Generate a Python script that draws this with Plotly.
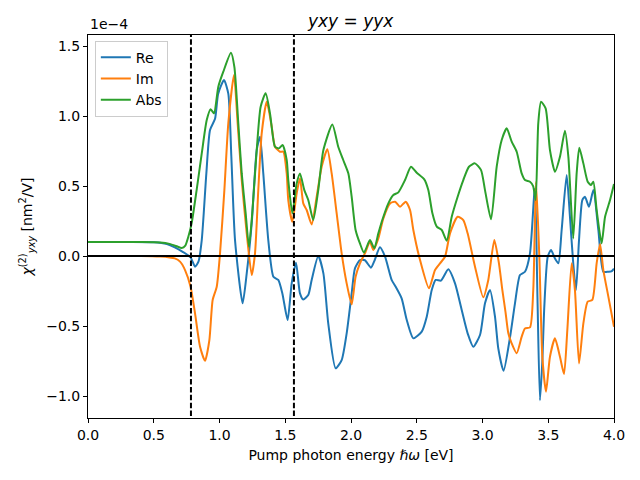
import plotly.graph_objects as go

# Values in units of 1e-4 nm^2/V
re_x = [0.0, 0.3, 0.5, 0.6, 0.66, 0.72, 0.78, 0.814, 0.84, 0.865, 0.90, 0.928, 0.966, 0.99, 1.034,
        1.067, 1.09, 1.118, 1.176, 1.207, 1.245, 1.283, 1.308, 1.333, 1.371, 1.41, 1.447, 1.478,
        1.518, 1.549, 1.582, 1.612, 1.637, 1.675, 1.701, 1.751, 1.79, 1.827, 1.883, 1.929, 1.967,
        2.005, 2.03, 2.068, 2.106, 2.152, 2.18, 2.22, 2.259, 2.309, 2.34, 2.385, 2.424, 2.474,
        2.538, 2.576, 2.614, 2.644, 2.684, 2.74, 2.791, 2.842, 2.887, 2.93, 2.981, 3.019, 3.057,
        3.095, 3.12, 3.16, 3.21, 3.247, 3.285, 3.323, 3.361, 3.394, 3.40, 3.418, 3.437, 3.455,
        3.47, 3.496, 3.521, 3.551, 3.577, 3.602, 3.64, 3.665, 3.69, 3.711, 3.734, 3.759, 3.779,
        3.81, 3.843, 3.881, 3.919, 3.957, 3.98, 4.0]
re_y = [0.10, 0.10, 0.098, 0.085, 0.062, 0.03, -0.01, -0.076, -0.04, 0.114, 0.59, 0.90, 0.98, 1.16, 1.257,
        1.16, 0.71, 0.114, -0.338, -0.124, 0.235, 0.757, 0.852, 0.59, 0.114, -0.148, -0.171, -0.267,
        -0.457, -0.195, -0.048, -0.267, -0.31, -0.279, -0.171, 0.0, -0.124, -0.481, -0.802, -0.743, -0.552,
        -0.267, -0.088, -0.029, -0.03, -0.083, -0.03, 0.062, -0.005, -0.171, -0.22, -0.302, -0.457, -0.588,
        -0.54, -0.433, -0.243, -0.171, -0.176, -0.095, -0.195, -0.386, -0.552, -0.648, -0.564, -0.338, -0.243,
        -0.433, -0.66, -0.82, -0.576, -0.338, -0.136, -0.112, 0.019, 0.45, 0.48, -0.3, -1.03, -0.75,
        -0.362, -0.005, 0.043, -0.017, -0.052, 0.186, 0.579, 0.281, -0.052, -0.243, 0.114, 0.4, 0.424,
        0.352, 0.471, 0.186, -0.112, -0.112, -0.11, -0.09]

im_x = [0.0, 0.4, 0.55, 0.62, 0.66, 0.70, 0.738, 0.78, 0.814, 0.852, 0.89, 0.923, 0.948, 0.979, 1.004,
        1.037, 1.067, 1.11, 1.138, 1.169, 1.207, 1.245, 1.27, 1.295, 1.321, 1.359, 1.397, 1.422, 1.46,
        1.485, 1.511, 1.523, 1.554, 1.587, 1.612, 1.637, 1.663, 1.701, 1.739, 1.777, 1.82, 1.853, 1.891,
        1.929, 1.967, 2.005, 2.035, 2.068, 2.106, 2.144, 2.17, 2.208, 2.246, 2.297, 2.335, 2.373, 2.416,
        2.449, 2.474, 2.525, 2.593, 2.639, 2.677, 2.715, 2.753, 2.811, 2.854, 2.887, 2.943, 3.006, 3.044,
        3.09, 3.125, 3.151, 3.175, 3.196, 3.22, 3.26, 3.298, 3.323, 3.361, 3.386, 3.407, 3.432, 3.455,
        3.483, 3.513, 3.551, 3.589, 3.62, 3.645, 3.678, 3.703, 3.734, 3.767, 3.8, 3.835, 3.868, 3.894,
        3.919, 3.957, 4.0]
im_y = [0.0, 0.0, -0.004, -0.01, -0.017, -0.04, -0.1, -0.219, -0.41, -0.648, -0.748, -0.6, -0.314, -0.219, 0.019,
        0.471, 0.948, 1.293, 0.948, 0.543, 0.162, -0.136, 0.019, 0.471, 0.876, 1.102, 0.924, 0.781, 0.745,
        0.745, 0.59, 0.4, 0.245, 0.448, 0.555, 0.376, 0.329, 0.226, 0.424, 0.638, 0.762, 0.59, 0.305,
        0.019, -0.195, -0.345, -0.148, -0.052, 0.019, 0.102, 0.043, 0.126, 0.269, 0.376, 0.388, 0.352, 0.388,
        0.329, 0.186, -0.029, -0.231, -0.1, -0.052, -0.005, 0.162, 0.281, 0.257, 0.162, -0.076, -0.295, -0.171,
        0.114, -0.052, -0.243, -0.40, -0.55, -0.62, -0.695, -0.576, -0.517, -0.51, -0.243, 0.53, 0.0, -0.719,
        -0.969, -0.719, -0.588, -0.719, -0.843, -0.529, -0.052, -0.243, -0.767, -0.481, -0.326, -0.314, -0.052, 0.086,
        -0.1, -0.29, -0.505]

abs_x = [0.0, 0.4, 0.55, 0.62, 0.68, 0.712, 0.74, 0.763, 0.788, 0.826, 0.865, 0.903, 0.933, 0.958, 0.991,
         1.029, 1.087, 1.113, 1.143, 1.169, 1.199, 1.224, 1.249, 1.283, 1.313, 1.351, 1.384, 1.422, 1.452,
         1.48, 1.511, 1.523, 1.554, 1.587, 1.612, 1.645, 1.675, 1.713, 1.751, 1.79, 1.858, 1.903, 1.941,
         1.98, 2.005, 2.035, 2.068, 2.099, 2.144, 2.177, 2.208, 2.238, 2.284, 2.322, 2.36, 2.411, 2.456,
         2.5, 2.557, 2.588, 2.619, 2.652, 2.69, 2.728, 2.766, 2.811, 2.854, 2.897, 2.943, 2.989, 3.019,
         3.065, 3.108, 3.146, 3.184, 3.222, 3.26, 3.298, 3.323, 3.361, 3.385, 3.404, 3.424, 3.445, 3.48,
         3.513, 3.551, 3.589, 3.627, 3.653, 3.69, 3.716, 3.736, 3.767, 3.8, 3.825, 3.843, 3.868, 3.906,
         3.932, 3.97, 4.0]
abs_y = [0.10, 0.10, 0.097, 0.087, 0.068, 0.058, 0.075, 0.138, 0.233, 0.471, 0.733, 0.971, 1.048, 1.019, 1.21,
         1.317, 1.452, 1.352, 0.948, 0.59, 0.305, 0.067, 0.305, 0.757, 1.067, 1.162, 1.019, 0.781, 0.769,
         0.793, 0.686, 0.543, 0.305, 0.519, 0.59, 0.471, 0.4, 0.257, 0.471, 0.757, 0.94, 0.781, 0.686,
         0.59, 0.424, 0.186, 0.09, 0.024, 0.114, 0.055, 0.162, 0.257, 0.376, 0.436, 0.455, 0.543, 0.638,
         0.595, 0.548, 0.471, 0.305, 0.21, 0.186, 0.11, 0.281, 0.424, 0.543, 0.638, 0.662, 0.614, 0.471,
         0.262, 0.638, 0.829, 0.912, 0.817, 0.745, 0.59, 0.543, 0.531, 0.50, 0.40, 0.948, 1.102, 1.055,
         0.757, 0.602, 0.709, 0.895, 0.709, 0.126, 0.59, 0.774, 0.662, 0.531, 0.507, 0.531, 0.329, 0.09,
         0.281, 0.4, 0.514]

vlines = [0.783, 1.566]
x_ticks = [0.0, 0.5, 1.0, 1.5, 2.0, 2.5, 3.0, 3.5, 4.0]
y_ticks = [-1.0, -0.5, 0.0, 0.5, 1.0, 1.5]

FONT = "DejaVu Sans"
fig = go.Figure()
for name, xs, ys, col in [("Re", re_x, re_y, "#1f77b4"),
                          ("Im", im_x, im_y, "#ff7f0e"),
                          ("Abs", abs_x, abs_y, "#2ca02c")]:
    fig.add_trace(go.Scatter(x=xs, y=ys, mode="lines", name=name,
                             line=dict(color=col, width=2, shape="spline", smoothing=0.6)))

fig.add_trace(go.Scatter(x=[x_ticks[0], x_ticks[-1]], y=[0, 0], mode="lines",
                         line=dict(color="black", width=2), showlegend=False, hoverinfo="skip"))
for v in vlines:
    fig.add_trace(go.Scatter(x=[v, v], y=[-1.2, 1.6], mode="lines",
                             line=dict(color="black", width=2, dash="5.5px,2.4px"),
                             showlegend=False, hoverinfo="skip"))

fig.update_layout(
    width=640, height=480,
    margin=dict(l=88, r=26, t=35, b=62, autoexpand=False),
    paper_bgcolor="white", plot_bgcolor="white",
    font=dict(family=FONT, size=14, color="black"),
    title=dict(text="<i>yxy</i> = <i>yyx</i>", x=0.548, xanchor="center", y=0.956, yanchor="middle",
               font=dict(size=17, family=FONT)),
    showlegend=True,
    legend=dict(x=0.013, y=0.985, xanchor="left", yanchor="top",
                bordercolor="#cccccc", borderwidth=1, bgcolor="rgba(255,255,255,0.8)",
                font=dict(size=14, family=FONT), tracegroupgap=0, itemwidth=30),
)
fig.update_xaxes(range=[0, 4], tickvals=x_ticks, tickformat=".1f", automargin=False,
                 showgrid=False, zeroline=False, showline=True, linecolor="black", linewidth=1,
                 mirror=True, ticks="outside", ticklen=4, tickcolor="black",
                 tickfont=dict(size=14, family=FONT),
                 title=dict(text="Pump photon energy <i>ℏω</i> [eV]", standoff=8,
                            font=dict(size=14, family=FONT)))
fig.update_yaxes(range=[-1.157, 1.579], tickvals=y_ticks, tickformat=".1f", automargin=False,
                 showgrid=False, zeroline=False, showline=True, linecolor="black", linewidth=1,
                 mirror=True, ticks="outside", ticklen=4, tickcolor="black",
                 tickfont=dict(size=14, family=FONT),
                 title=dict(text="<i>χ</i><sup>(2)</sup><sub><i>yxy</i></sub> [nm<sup>2</sup>/V]", standoff=10,
                            font=dict(size=14, family=FONT)))
fig.add_annotation(text="1e−4", xref="paper", yref="paper", x=0, y=1, xanchor="left",
                   yanchor="bottom", yshift=1, showarrow=False, font=dict(size=14, family=FONT))

fig.write_html("out.html", config={"displayModeBar": False},
               post_script="document.body.style.margin='0';document.body.style.padding='0';")
